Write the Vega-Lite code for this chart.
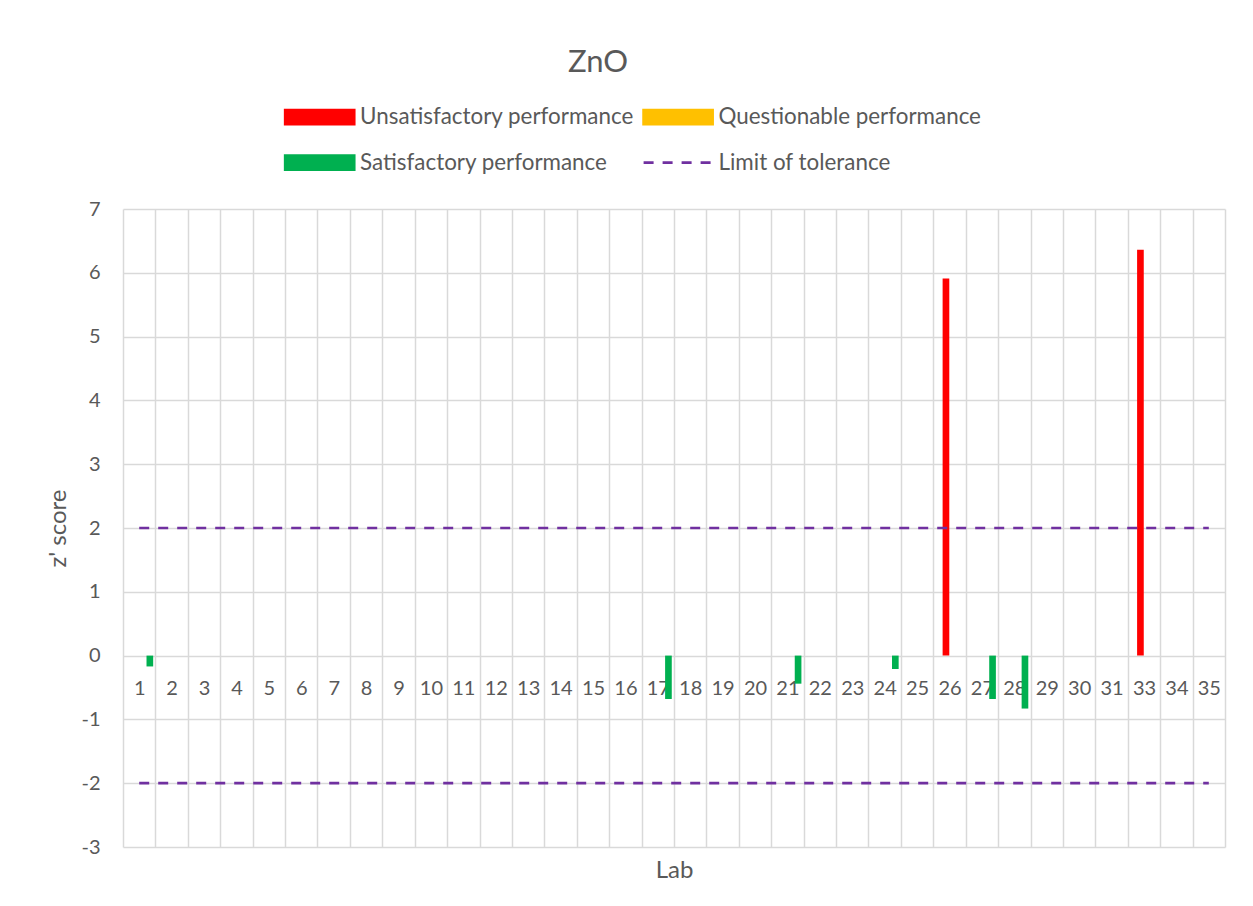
{
  "$schema": "https://vega.github.io/schema/vega-lite/v6.json",
  "width": 1102,
  "height": 638,
  "autosize": {"type": "none"},
  "padding": {"left": 123, "top": 209, "right": 28, "bottom": 59},
  "background": "white",
  "config": {
    "font": "Lato",
    "view": {"stroke": null}
  },
  "title": {
    "text": "ZnO",
    "anchor": "middle",
    "frame": "group",
    "dx": -76,
    "offset": 27,
    "font": "Lato",
    "fontSize": 31,
    "fontWeight": "normal",
    "color": "#595959"
  },
  "datasets": {
    "bars": [
      {"lab": "1", "perf": "Satisfactory performance", "z": -0.17},
      {"lab": "17", "perf": "Satisfactory performance", "z": -0.68},
      {"lab": "21", "perf": "Satisfactory performance", "z": -0.44},
      {"lab": "24", "perf": "Satisfactory performance", "z": -0.21},
      {"lab": "26", "perf": "Unsatisfactory performance", "z": 5.91},
      {"lab": "27", "perf": "Satisfactory performance", "z": -0.68},
      {"lab": "28", "perf": "Satisfactory performance", "z": -0.83},
      {"lab": "33", "perf": "Unsatisfactory performance", "z": 6.36}
    ],
    "limits": [
      {"lab": "1", "z": 2, "limit": "upper"},
      {"lab": "35", "z": 2, "limit": "upper"},
      {"lab": "1", "z": -2, "limit": "lower"},
      {"lab": "35", "z": -2, "limit": "lower"}
    ]
  },
  "layer": [
    {
      "data": {"name": "bars"},
      "mark": {"type": "bar"},
      "encoding": {
        "x": {
          "field": "lab",
          "type": "nominal",
          "sort": null,
          "scale": {
            "type": "band",
            "domain": ["1","2","3","4","5","6","7","8","9","10","11","12","13","14","15","16","17","18","19","20","21","22","23","24","25","26","27","28","29","30","31","33","34","35"],
            "paddingInner": 0,
            "paddingOuter": 0
          },
          "axis": {
            "title": "Lab",
            "offset": -191,
            "domain": false,
            "ticks": false,
            "grid": true,
            "tickBand": "extent",
            "gridColor": "#d9d9d9",
            "gridWidth": 1.5,
            "labelAngle": 0,
            "labelOverlap": false,
            "labelFont": "Lato",
            "labelFontSize": 20,
            "labelColor": "#595959",
            "labelPadding": 22,
            "titleFont": "Lato",
            "titleFontSize": 24,
            "titleFontWeight": "normal",
            "titleColor": "#595959",
            "titleBaseline": "top",
            "titleY": 202
          }
        },
        "xOffset": {
          "field": "perf",
          "type": "nominal",
          "scale": {
            "domain": ["_", "Unsatisfactory performance", "Questionable performance", "Satisfactory performance"],
            "paddingInner": 0.06,
            "paddingOuter": 0.315
          }
        },
        "y": {
          "field": "z",
          "type": "quantitative",
          "scale": {"domain": [-3, 7], "nice": false, "zero": false},
          "axis": {
            "title": "z' score",
            "values": [-3, -2, -1, 0, 1, 2, 3, 4, 5, 6, 7],
            "labelExpr": "'' + datum.value",
            "domain": false,
            "ticks": false,
            "grid": true,
            "gridColor": "#d9d9d9",
            "gridWidth": 1.5,
            "labelFont": "Lato",
            "labelFontSize": 20,
            "labelColor": "#595959",
            "labelPadding": 23,
            "titleFont": "Lato",
            "titleFontSize": 24,
            "titleFontWeight": "normal",
            "titleColor": "#595959",
            "titleAngle": -90,
            "titleAlign": "center",
            "titleBaseline": "alphabetic",
            "titleX": -58,
            "titleY": 319
          }
        },
        "y2": {"datum": 0},
        "color": {
          "field": "perf",
          "type": "nominal",
          "scale": {
            "domain": ["Unsatisfactory performance", "Questionable performance", "Satisfactory performance", "Limit of tolerance"],
            "range": ["#ff0000", "#ffc000", "#00b050", "#7030a0"]
          },
          "legend": {
            "title": null,
            "orient": "none",
            "legendX": 156,
            "legendY": -103.2,
            "columns": 2,
            "direction": "horizontal",
            "columnPadding": 3.4,
            "rowPadding": 19.6,
            "padding": 0,
            "symbolSize": 100,
            "labelOffset": 58.7,
            "labelFont": "Lato",
            "labelFontSize": 22.4,
            "labelColor": "#595959",
            "labelLimit": 500,
            "encode": {
              "symbols": {
                "update": {
                  "shape": {"signal": "datum.value === 'Limit of tolerance' ? 'M-1,0L12.8,0' : 'M-1,-1.4L12.8,-1.4L12.8,1.4L-1,1.4Z'"},
                  "fill": {"signal": "datum.value === 'Limit of tolerance' ? 'transparent' : scale('color', datum.value)"},
                  "stroke": {"signal": "datum.value === 'Limit of tolerance' ? '#7030a0' : 'transparent'"},
                  "strokeWidth": {"value": 2.7},
                  "strokeDash": {"signal": "datum.value === 'Limit of tolerance' ? [10, 9] : []"},
                  "opacity": {"value": 1}
                }
              }
            }
          }
        }
      }
    },
    {
      "data": {"name": "limits"},
      "mark": {"type": "line", "strokeDash": [10, 9], "strokeWidth": 2.7},
      "encoding": {
        "x": {"field": "lab", "type": "nominal", "sort": null},
        "y": {"field": "z", "type": "quantitative"},
        "detail": {"field": "limit"},
        "color": {"datum": "Limit of tolerance"}
      }
    }
  ]
}
